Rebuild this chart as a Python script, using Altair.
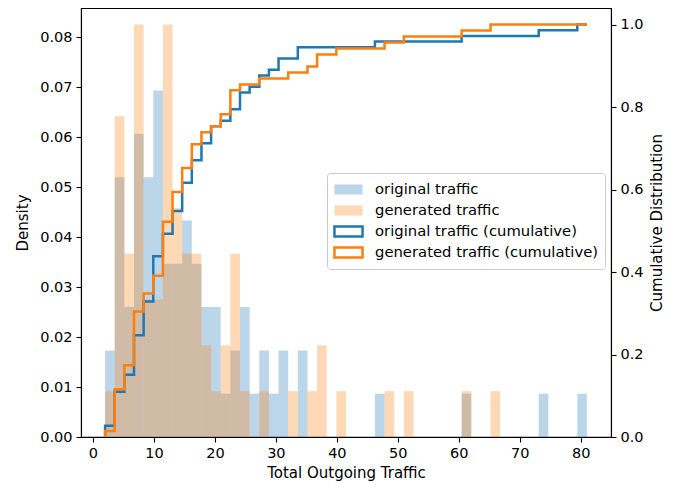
import altair as alt
import numpy as np
import pandas as pd

# ---- data ----
bin_start = 2.0
bin_width = 1.58
n_bins = 50

original_counts = [2, 6, 3, 7, 6, 8, 4, 4, 5, 4,
                   3, 3, 1, 2, 3, 1, 2, 1, 2, 0,
                   2, 0, 0, 0, 0, 0, 0, 0, 1, 0,
                   0, 0, 0, 0, 0, 0, 0, 1, 0, 0,
                   0, 0, 0, 0, 0, 1, 0, 0, 0, 1]
generated_counts = [1, 7, 4, 9, 3, 3, 9, 5, 4, 4,
                    2, 1, 2, 4, 1, 0, 1, 0, 0, 1,
                    0, 1, 2, 0, 1, 0, 0, 0, 0, 1,
                    0, 1, 0, 0, 0, 0, 0, 1, 0, 0,
                    1, 0, 0, 0, 0, 0, 0, 0, 0, 0]

labels = ["original traffic", "generated traffic",
          "original traffic (cumulative)", "generated traffic (cumulative)"]
x_ticks = [0, 10, 20, 30, 40, 50, 60, 70, 80]
y_ticks = [0.0, 0.01, 0.02, 0.03, 0.04, 0.05, 0.06, 0.07, 0.08]
cum_ticks = [0.0, 0.2, 0.4, 0.6, 0.8, 1.0]

edges = bin_start + bin_width * np.arange(n_bins + 1)

bar_rows = []
line_rows = []
for name, cum_name, counts in [(labels[0], labels[2], original_counts),
                               (labels[1], labels[3], generated_counts)]:
    c = np.array(counts, dtype=float)
    n = c.sum()
    dens = c / (n * bin_width)
    for i in range(n_bins):
        if c[i] > 0:
            bar_rows.append({"series": name, "lo": edges[i], "hi": edges[i + 1],
                             "density": dens[i]})
    cum = np.cumsum(c) / n
    k = 0
    line_rows.append({"series": cum_name, "x": edges[0], "cum": 0.0, "k": k})
    for i in range(n_bins):
        k += 1
        line_rows.append({"series": cum_name, "x": edges[i], "cum": cum[i], "k": k})
    k += 1
    line_rows.append({"series": cum_name, "x": edges[-1], "cum": cum[-1], "k": k})

bars = pd.DataFrame(bar_rows)
lines = pd.DataFrame(line_rows)

# plot area is 4px shorter than the reference (page margin), keep same px/unit
shrink = 429.0 / 433.0
dmax = 1.05 * bars["density"].max() * shrink
cmax = 1.05 * shrink
span = edges[-1] - edges[0]
x_dom = [edges[0] - 0.05 * span, edges[-1] + 0.05 * span]

fill_range = ["rgba(31,119,180,0.3)", "rgba(255,127,14,0.3)", "transparent", "transparent"]
stroke_range = ["transparent", "transparent", "#1f77b4", "#ff7f0e"]

FONT = "DejaVu Sans"
sym_path = "M-1.56,-0.56H1.56V0.56H-1.56Z"

legend_kw = dict(
    title=None, orient="none", legendX=246, legendY=165,
    symbolType=sym_path, symbolSize=324, symbolStrokeWidth=2.5,
    symbolOffset=5, labelOffset=16, rowPadding=0, padding=6,
    labelFontSize=14.8, labelFont=FONT, labelColor="black", labelLimit=500,
    strokeColor="#cccccc", fillColor="rgba(255,255,255,0.8)", cornerRadius=3,
)

xscale = alt.Scale(domain=x_dom, nice=False, zero=False)
xaxis = alt.Axis(values=x_ticks, title="Total Outgoing Traffic", format="d", titlePadding=6)

bar_layer = alt.Chart(bars).mark_bar(strokeWidth=0).encode(
    x=alt.X("lo:Q", scale=xscale, axis=xaxis),
    x2="hi:Q",
    y=alt.Y("density:Q", scale=alt.Scale(domain=[0, dmax], nice=False),
            axis=alt.Axis(values=y_ticks, format=".2f", title="Density", orient="left",
                          titlePadding=9)),
    y2=alt.datum(0),
    fill=alt.Fill("series:N", scale=alt.Scale(domain=labels, range=fill_range),
                  legend=alt.Legend(**legend_kw)),
)

line_layer = alt.Chart(lines).mark_line(interpolate="step-after", strokeWidth=2.5).encode(
    x=alt.X("x:Q", scale=xscale),
    y=alt.Y("cum:Q", scale=alt.Scale(domain=[0, cmax], nice=False),
            axis=alt.Axis(values=cum_ticks, format=".1f", title="Cumulative Distribution",
                          orient="right", titleAngle=270, titleBaseline="top",
                          titlePadding=6)),
    stroke=alt.Stroke("series:N", scale=alt.Scale(domain=labels, range=stroke_range),
                      legend=alt.Legend(**legend_kw)),
    detail="series:N",
    order="k:Q",
)

chart = alt.layer(bar_layer, line_layer).resolve_scale(y="independent").properties(
    width=530, height=429,
    autosize=alt.AutoSizeParams(type="none"),
    padding={"left": 73, "top": 0, "right": 70, "bottom": 50},
).configure_view(stroke="black", strokeWidth=1.1).configure_axis(
    grid=False, labelFont=FONT, titleFont=FONT, labelFontSize=14.5, titleFontSize=15,
    titleFontWeight="normal", labelColor="black", titleColor="black",
    tickColor="black", domainColor="black", tickSize=5, tickWidth=1.1, domainWidth=1.1,
    labelPadding=4,
)

chart.save("out.html", embed_options={"renderer": "svg", "actions": False})
